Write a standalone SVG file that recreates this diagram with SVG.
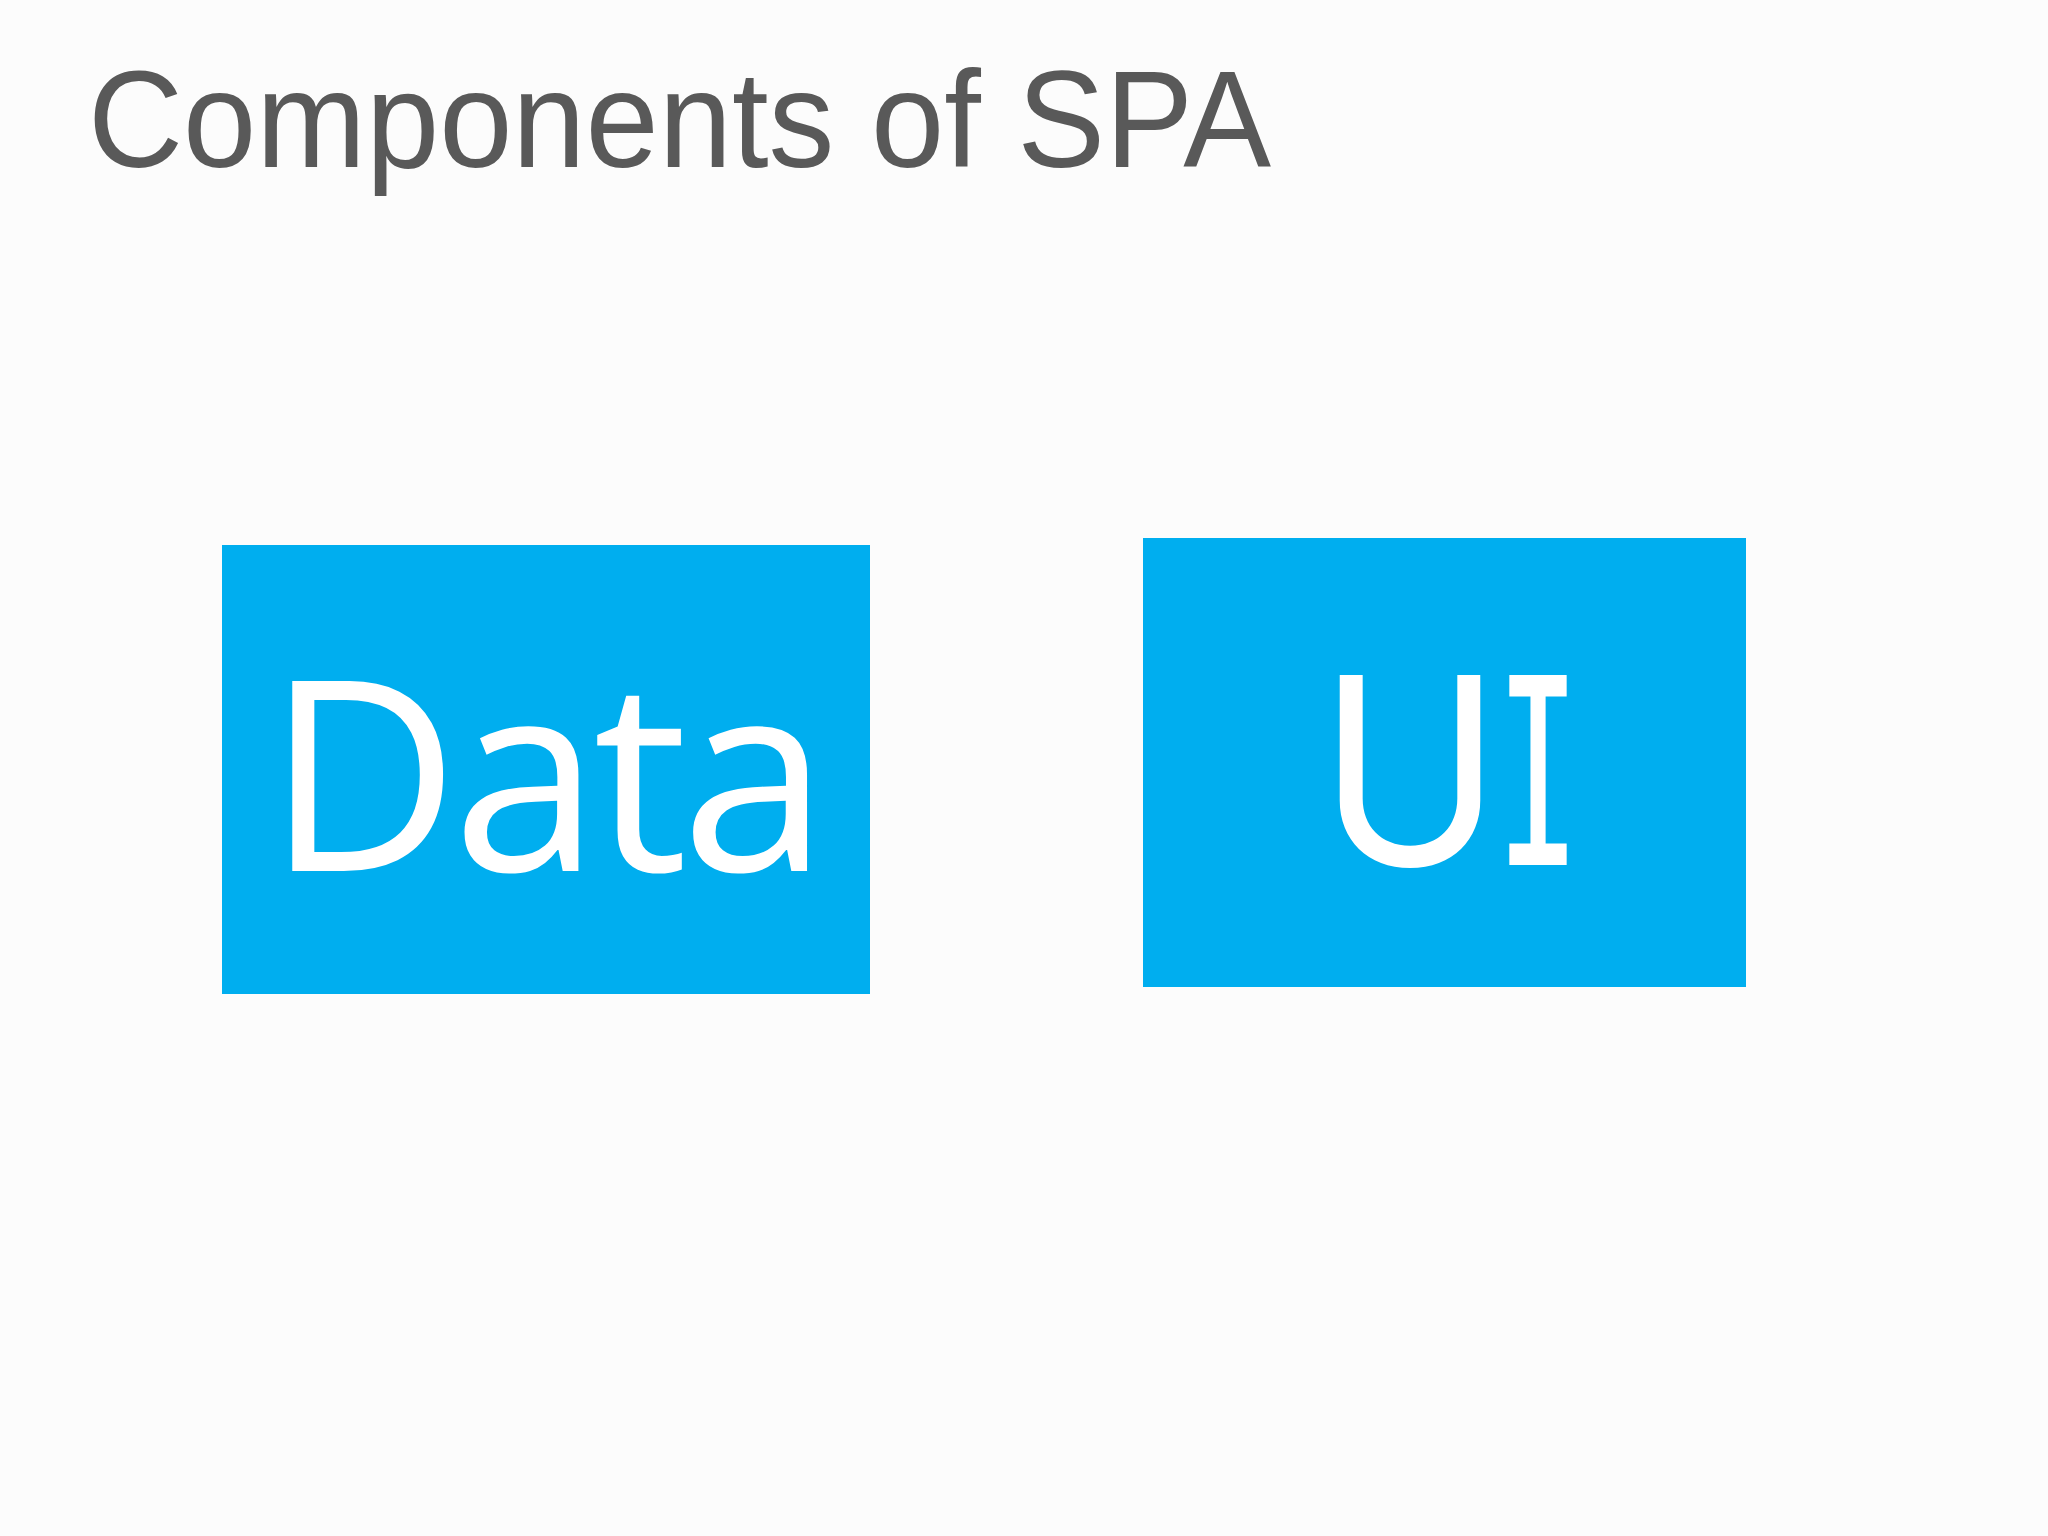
<svg xmlns="http://www.w3.org/2000/svg" width="2048" height="1536" viewBox="0 0 2048 1536">
<style>
.title{font-family:"Liberation Sans",Arial,sans-serif;font-size:138px;fill:#595959}
.box{fill:#00aeef}
.lbl{fill:#ffffff}
.data{font-family:"Open Sans","Noto Sans",sans-serif;font-size:266px;letter-spacing:-7px}
.ui{font-family:Inter,"Noto Sans",sans-serif;font-size:261px;font-feature-settings:"cv08" 1}
</style>
<rect width="2048" height="1536" fill="#fcfcfc"/>
<text class="title" x="88" y="167" textLength="1183" lengthAdjust="spacingAndGlyphs">Components of SPA</text>
<g id="node-data">
<rect class="box" x="222" y="545" width="648" height="449"/>
<text class="lbl data" x="544" y="871" text-anchor="middle">Data</text>
</g>
<g id="node-ui">
<rect class="box" x="1143" y="538" width="603" height="449"/>
<text class="lbl ui" x="1446" y="865" text-anchor="middle"><tspan textLength="184" lengthAdjust="spacingAndGlyphs">U</tspan><tspan textLength="72" lengthAdjust="spacingAndGlyphs">I</tspan></text>
</g>
<g id="connectors"></g>
</svg>
